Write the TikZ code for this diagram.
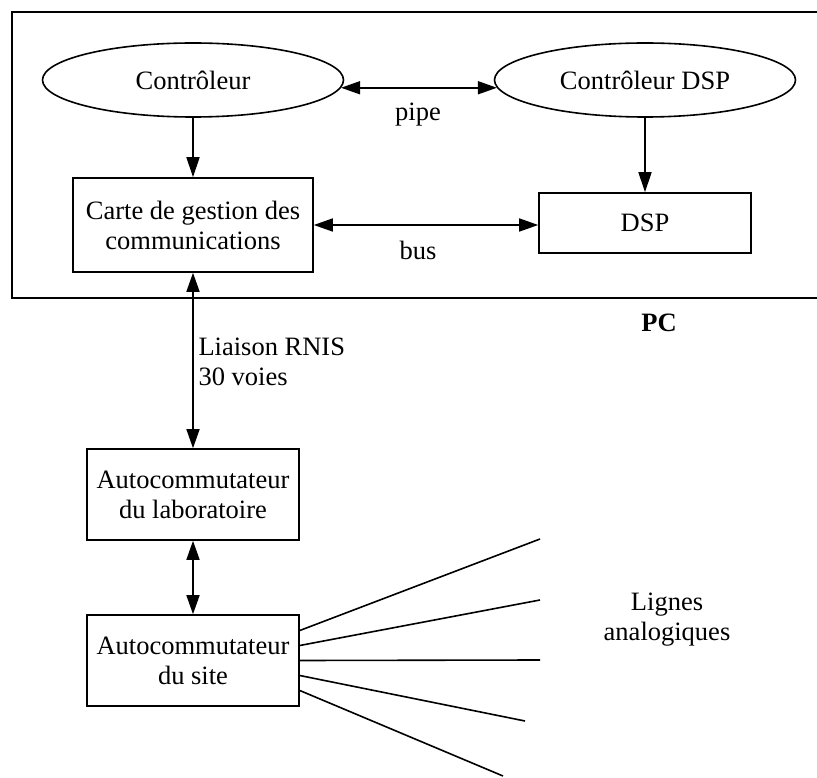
\documentclass[tikz,border=0pt]{standalone}
\usepackage{fontspec}
\setmainfont{Liberation Serif}
\usetikzlibrary{shapes.geometric,arrows.meta}

\tikzset{
  texte/.style={font=\fontsize{26.5}{30}\selectfont, align=center},
  boite/.style={texte, draw, line width=1.6pt, inner sep=2pt},
  bulle/.style={texte, draw, ellipse, line width=1.6pt, inner sep=1pt, minimum width=301pt, minimum height=74pt},
  fleche/.style={line width=1.6pt, -{Triangle[length=20pt,width=13pt]}},
  double fleche/.style={line width=1.6pt, {Triangle[length=19pt,width=13pt]}-{Triangle[length=19pt,width=13pt]}}
}

\begin{document}
\begin{tikzpicture}[x=1pt, y=-1pt]
		\useasboundingbox (0,0) rectangle (817,778);
		
		% cadre du PC (ouvert a droite)
		\draw [line width=1.6pt] (830,12) -- (12,12) -- (12,298) -- (830,298);
		\node [texte, font=\fontsize{26.5}{30}\selectfont\bfseries] (pc) at (659,323) {PC};
		
		\node [bulle] (ctrl) at (193,80) {Contr\^oleur};
		\node [bulle] (ctrldsp) at (645,80) {Contr\^oleur DSP};
		\node [boite, minimum width=240pt, minimum height=94pt] (carte) at (193,225) {Carte de gestion des\\communications};
		\node [boite, minimum width=212pt, minimum height=60pt] (dsp) at (645,223) {DSP};
		
		\node [boite, minimum width=212pt, minimum height=91pt] (labo) at (193,494.5) {Autocommutateur\\du laboratoire};
		\node [boite, minimum width=212pt, minimum height=91pt] (site) at (193,660.5) {Autocommutateur\\du site};
		
		\draw [double fleche] (ctrl.-3) -- (ctrldsp.183);
		\node [texte] (pipe) at (418,115) {pipe};
		\draw [fleche] (ctrl.south) -- (carte.north);
		\draw [fleche] (ctrldsp.south) -- (dsp.north);
		\draw [double fleche] (carte.east) -- (carte.east -| dsp.west);
		\node [texte] (bus) at (418,250) {bus};
		
		\draw [double fleche] (carte.south) -- (labo.north);
		\node [texte, align=left, anchor=west] (rnis) at (195,362) {Liaison RNIS\\30 voies};
		\draw [double fleche] (labo.south) -- (site.north);
		
		% lignes analogiques
		\foreach \i/\dy/\ex/\ey in {1/30/540/539, 2/15/540/600, 3/0/540/660, 4/-15/525/721, 5/-30/503/776} {
			\coordinate (fin\i) at (\ex,\ey);
			\draw [line width=1.6pt] ([yshift=\dy pt]site.east) -- (fin\i);
		}
		\node [texte] (lignes) at (667,620) {Lignes\\analogiques};
	\end{tikzpicture}
\end{document}
